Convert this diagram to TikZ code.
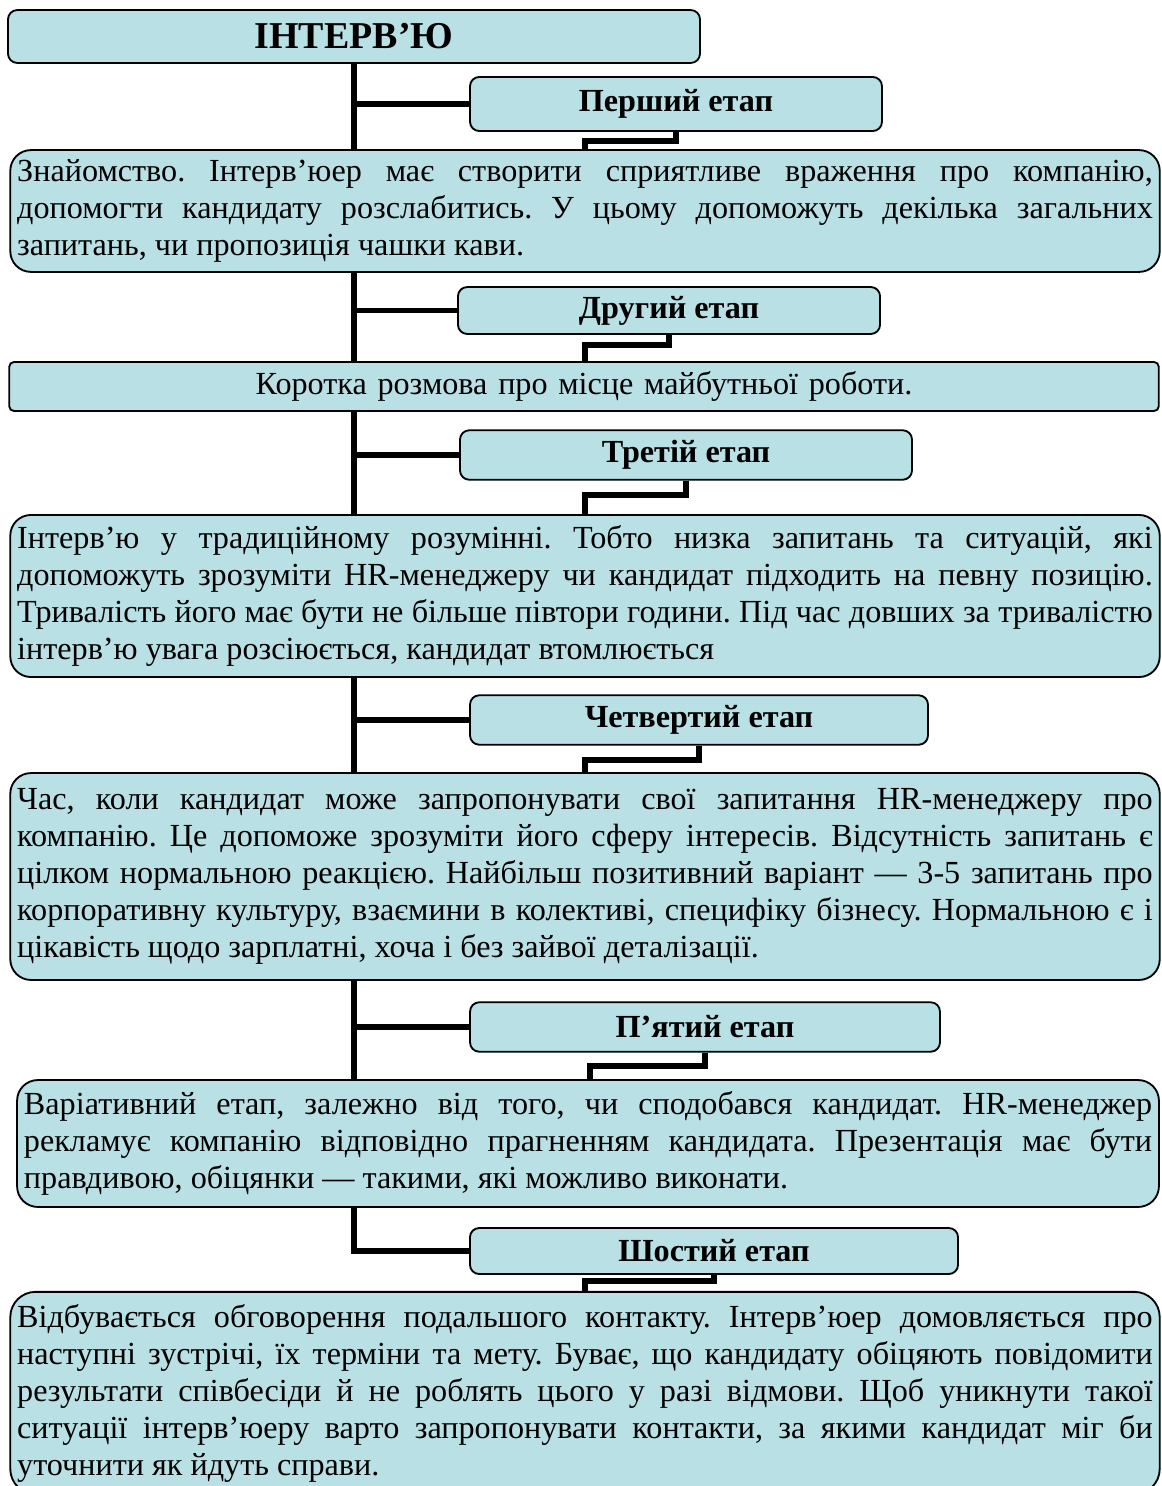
\documentclass[tikz,border=0pt]{standalone}
\usepackage{fontspec}
\setmainfont{Liberation Serif}
\usetikzlibrary{positioning}
\definecolor{boxfill}{RGB}{185,224,228}
\hyphenpenalty=10000
\exhyphenpenalty=10000
\frenchspacing

\begin{document}
\begin{tikzpicture}[x=0.435pt, y=-0.435pt,
    box/.style={draw=black, line width=0.8pt, fill=boxfill, rounded corners=4pt, inner sep=0pt},
    titlebox/.style={box, font=\fontsize{16.5}{20}\selectfont\bfseries, minimum width=301pt, minimum height=23pt},
    stagebox/.style={box, font=\fontsize{14}{16}\selectfont\bfseries, minimum height=21.5pt},
    textbox/.style={box, rounded corners=9pt, font=\fontsize{14}{16.1}\selectfont, align=justify, inner xsep=3pt, text width=494pt},
    conn/.style={line width=2.2pt}]
    \useasboundingbox (0,0) rectangle (1161,1486);
    \clip (0,0) rectangle (1161,1486);

    % Title and stages
    \node[titlebox] (title) at (354,36.5) {ІНТЕРВ’Ю};
    \node[stagebox, minimum width=179.2pt, minimum height=23.5pt] (s1) at (676,104) {Перший етап};
    \node[stagebox, minimum width=183.6pt, minimum height=20.4pt] (s2) at (669,310.5) {Другий етап};
    \node[stagebox, minimum width=196.6pt] (s3) at (686,455) {Третій етап};
    \node[stagebox, minimum width=199.2pt] (s4) at (699,720) {Четвертий етап};
    \node[stagebox, minimum width=204.4pt] (s5) at (705,1027) {П’ятий етап};
    \node[stagebox, minimum width=212.3pt, minimum height=20pt] (s6) at (714,1251) {Шостий етап};

    % Descriptions
    \node[textbox, minimum height=53pt] (t1) at (585,211) {Знайомство. Інтерв’юер має створити сприятливе враження про компанію,\linebreak
      допомогти кандидату розслабитись. У цьому допоможуть декілька загальних\linebreak
      запитань, чи пропозиція чашки кави.};
    \node[textbox, rounded corners=2pt, align=center, minimum height=21.3pt] (t2) at (584,386.5) {Коротка розмова про місце майбутньої роботи.};
    \node[textbox, minimum height=70.5pt] (t3) at (585,596) {Інтерв’ю у традиційному розумінні. Тобто низка запитань та ситуацій, які\linebreak
      допоможуть зрозуміти HR-менеджеру чи кандидат підходить на певну позицію.\linebreak
      Тривалість його має бути не більше півтори години. Під час довших за тривалістю\linebreak
      інтерв’ю увага розсіюється, кандидат втомлюється};
    \node[textbox, minimum height=90pt] (t4) at (585,876.5) {Час, коли кандидат може запропонувати свої запитання HR-менеджеру про\linebreak
      компанію. Це допоможе зрозуміти його сферу інтересів. Відсутність запитань є\linebreak
      цілком нормальною реакцією. Найбільш позитивний варіант — 3-5 запитань про\linebreak
      корпоративну культуру, взаємини в колективі, специфіку бізнесу. Нормальною є і\linebreak
      цікавість щодо зарплатні, хоча і без зайвої деталізації.};
    \node[textbox, text width=490.7pt, minimum height=55.2pt] (t5) at (588,1143.5) {Варіативний етап, залежно від того, чи сподобався кандидат. HR-менеджер\linebreak
      рекламує компанію відповідно прагненням кандидата. Презентація має бути\linebreak
      правдивою, обіцянки — такими, які можливо виконати.};
    \node[textbox, rounded corners=11pt, minimum height=88pt] (t6) at (585,1393) {Відбувається обговорення подальшого контакту. Інтерв’юер домовляється про\linebreak
      наступні зустрічі, їх терміни та мету. Буває, що кандидату обіцяють повідомити\linebreak
      результати співбесіди й не роблять цього у разі відмови. Щоб уникнути такої\linebreak
      ситуації інтерв’юеру варто запропонувати контакти, за якими кандидат міг би\linebreak
      уточнити як йдуть справи.};

    % Trunk
    \draw[conn] (title.south) -- (title.south |- t1.north);
    \draw[conn] (title.south |- t1.south) -- (title.south |- t2.north);
    \draw[conn] (title.south |- t2.south) -- (title.south |- t3.north);
    \draw[conn] (title.south |- t3.south) -- (title.south |- t4.north);
    \draw[conn] (title.south |- t4.south) -- (title.south |- t5.north);
    \draw[conn] (title.south |- t5.south) |- (s6.west);
    \foreach \s in {s1,s2,s3,s4,s5}
      \draw[conn] (title.south |- \s.west) -- (\s.west);

    % Brackets from stage to description
    \coordinate (b1) at (585,141);
    \coordinate (b2) at (585,345);
    \coordinate (b3) at (585,495);
    \coordinate (b4) at (585,760);
    \coordinate (b5) at (590,1066);
    \coordinate (b6) at (585,1281);
    \foreach \i in {1,...,6}
      \draw[conn] (s\i.south) |- (b\i) -- (b\i |- t\i.north);
\end{tikzpicture}
\end{document}
